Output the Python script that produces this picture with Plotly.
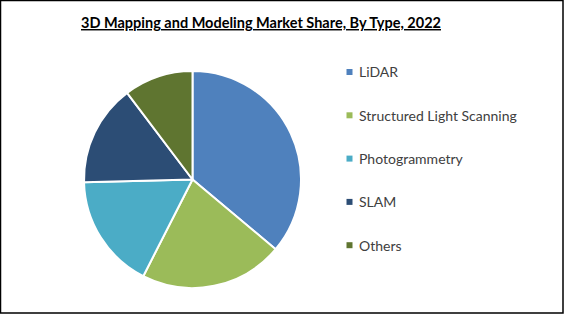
import plotly.graph_objects as go

# Data
categories = ["LiDAR", "Structured Light Scanning", "Photogrammetry", "SLAM", "Others"]
shares = [36.1, 21.4, 17.1, 15.1, 10.3]
colors = ["#4F81BD", "#9BBB59", "#4BACC6", "#2C4D75", "#5F7530"]
title_text = "3D Mapping and Modeling Market Share, By Type, 2022"

W, H = 564, 314

fig = go.Figure()
fig.add_trace(go.Pie(
    labels=categories,
    values=shares,
    sort=False,
    direction="clockwise",
    rotation=0,
    marker=dict(colors=colors, line=dict(color="white", width=2)),
    textinfo="none",
    hoverinfo="label+percent",
    showlegend=False,
    domain=dict(x=[84 / W, 301 / W], y=[1 - 288 / H, 1 - 71 / H]),
))

shapes = []
annotations = []
# Legend (manual, to match spacing)
leg_x_marker = 346.5
leg_x_text = 357
leg_y0 = 72
leg_dy = 43.3
for i, (cat, col) in enumerate(zip(categories, colors)):
    yc = leg_y0 + i * leg_dy
    shapes.append(dict(
        type="rect", xref="paper", yref="paper",
        x0=leg_x_marker / W, x1=(leg_x_marker + 6) / W,
        y0=1 - (yc + 3) / H, y1=1 - (yc - 3) / H,
        fillcolor=col, line=dict(width=0),
    ))
    annotations.append(dict(
        text=cat, xref="paper", yref="paper",
        x=leg_x_text / W, y=1 - yc / H,
        xanchor="left", yanchor="middle", showarrow=False,
        font=dict(family="Lato", size=14, color="#404040"),
    ))

# Title
annotations.append(dict(
    text="<b><u>" + title_text + "</u></b>",
    xref="paper", yref="paper", x=260.5 / W, y=1 - 23 / H,
    xanchor="center", yanchor="middle", showarrow=False,
    font=dict(family="Lato", size=14.5, color="#000000"),
))

# Outer frame
shapes.append(dict(
    type="rect", xref="paper", yref="paper",
    x0=0.5 / W, x1=1 - 1 / W, y0=1 / H, y1=1 - 0.5 / H,
    line=dict(color="black", width=1.5), fillcolor="rgba(0,0,0,0)",
))

fig.update_layout(
    width=W, height=H,
    margin=dict(l=0, r=0, t=0, b=0),
    paper_bgcolor="white",
    plot_bgcolor="white",
    shapes=shapes,
    annotations=annotations,
    showlegend=False,
)

fig.write_html("out.html")
